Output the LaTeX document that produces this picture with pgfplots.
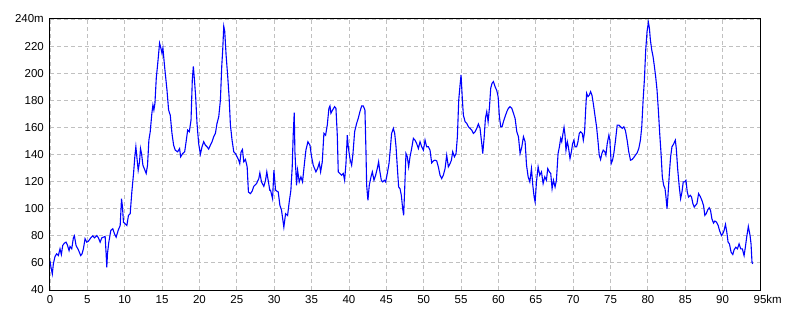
\documentclass[border=0pt]{standalone}
\usepackage{fontspec}
\setmainfont{Liberation Sans}
\usepackage{pgfplots}
\pgfplotsset{compat=1.18}
\definecolor{gridgray}{RGB}{192,192,192}
\begin{document}
\begin{tikzpicture}
\path[use as bounding box] (-50bp,-30bp) rectangle (750bp,290bp);
\begin{axis}[
  at={(0,0)}, anchor=south west,
  scale only axis, width=710bp, height=271bp,
  xmin=0, xmax=95, ymin=40, ymax=240,
  xtick={0,5,...,95}, ytick={40,60,...,240},
  xticklabels={0,5,10,15,20,25,30,35,40,45,50,55,60,65,70,75,80,85,90,95\rlap{km}},
  yticklabels={40,60,80,100,120,140,160,180,200,220,240m},
  major tick length=0pt,
  grid=major,
  grid style={gridgray, line width=0.8bp, dash pattern=on 4bp off 3bp},
  axis line style={black, line width=1bp},
  tick label style={font=\fontsize{11.5bp}{13bp}\selectfont, inner sep=0pt},
  /pgf/number format/assume math mode=true,
  yticklabel style={anchor=east, xshift=-6bp},
  xticklabel style={anchor=north, yshift=-5bp},
  axis on top=false,
]
\addplot[blue, line width=1.1bp] coordinates {
(0,61.5)(0.13,56.8)(0.31,51.9)(0.45,59.3)(0.67,64.7)(0.89,66.7)(1.12,65.4)(1.34,70.4)(1.52,66.2)(1.70,72.8)
(1.92,74.6)(2.15,75.3)(2.32,73.3)(2.55,69.1)(2.68,72.1)(2.91,70.4)(3.13,78.5)(3.26,80)(3.49,72.8)(3.80,69.6)
(4.11,65.4)(4.29,66.7)(4.47,70.4)(4.69,77.8)(4.92,75.3)(5.14,76)(5.45,78.5)(5.72,80)(5.95,78.5)(6.26,80.2)
(6.48,78.5)(6.71,75.3)(6.93,78.5)(7.15,79)(7.38,79.5)(7.51,66.7)(7.60,56.8)(7.69,66.7)(7.87,75.3)(8.14,84)
(8.40,85.2)(8.63,81.5)(8.85,79)(9.12,84)(9.39,87.6)(9.57,107.4)(9.70,101.2)(9.83,90)(10.06,88.9)(10.28,87.6)
(10.5,95)(10.73,96.3)(10.95,112.3)(11.18,126)(11.35,138.3)(11.49,145.7)(11.62,138.3)(11.80,128.4)(11.98,134.6)(12.11,144.4)
(12.25,140.7)(12.43,132.1)(12.70,128.4)(12.87,126)(13.05,132.1)(13.23,150.6)(13.41,156.8)(13.63,170.4)(13.77,176.5)(13.90,172.8)
(14.04,177.7)(14.22,196.3)(14.44,208.6)(14.66,222.2)(14.84,218.5)(14.98,214.8)(15.11,218.5)(15.33,205)(15.65,187.7)(15.87,172.8)
(16.09,169.1)(16.32,155.6)(16.54,146.9)(16.76,143.2)(17.08,142)(17.34,144.4)(17.48,138.3)(17.75,140.7)(18.02,142)(18.24,150.6)
(18.42,158)(18.64,156.8)(18.87,165.4)(19.04,195)(19.18,205)(19.31,196.3)(19.49,182.7)(19.67,163)(19.89,148.1)(20.12,140.2)
(20.34,145.7)(20.56,149.4)(20.79,146.9)(21.01,145.7)(21.23,144)(21.46,146.9)(21.68,149.4)(21.90,153.1)(22.13,155.6)(22.35,163)
(22.58,167.9)(22.80,180.2)(22.98,205)(23.11,217.3)(23.25,234.6)(23.38,230.9)(23.56,213.6)(23.78,197.5)(23.96,182.7)(24.14,161.7)
(24.36,150.6)(24.59,142)(24.81,140.7)(25.03,138.3)(25.25,135.8)(25.39,133.3)(25.57,142)(25.75,143.7)(25.93,134.6)(26.15,136.3)
(26.38,131)(26.55,112.3)(26.82,111.1)(27.05,113)(27.27,116.5)(27.63,118.5)(27.94,122.2)(28.08,126.4)(28.30,119.8)(28.61,116.5)
(28.84,121)(29.01,127.2)(29.19,121)(29.41,113.6)(29.51,113.6)(29.78,107.4)(29.96,128.4)(30.18,113.6)(30.54,112.3)(30.76,102.5)
(30.98,98.8)(31.29,86.4)(31.52,96.3)(31.79,95)(32.01,105)(32.23,113.6)(32.41,130.9)(32.54,154.3)(32.68,170.9)(32.77,142)
(32.99,117.3)(33.13,128.4)(33.35,119.8)(33.57,123.5)(33.79,119.8)(34.02,132.1)(34.24,143.2)(34.51,149.4)(34.78,146.9)(35.00,138.3)
(35.22,132.1)(35.58,127.2)(35.80,129.6)(36.03,133.8)(36.21,127.2)(36.43,134.6)(36.65,155.6)(36.88,154.3)(37.10,161.7)(37.32,174.1)
(37.46,175.8)(37.59,170.4)(37.81,172.8)(38.08,175.3)(38.26,174.1)(38.44,154.3)(38.57,127.2)(38.79,126)(39.02,124.7)(39.24,126)
(39.42,121)(39.60,133.3)(39.78,154.3)(39.91,145.7)(40.13,137)(40.36,132.1)(40.54,140.7)(40.76,156.8)(41.03,163)(41.25,166.7)
(41.47,171.6)(41.70,175.8)(41.92,175.8)(42.14,172.8)(42.28,142)(42.37,117.3)(42.54,106.2)(42.72,117.3)(42.95,123.5)(43.13,127.2)
(43.35,121)(43.57,124.7)(43.79,129.6)(43.97,134.6)(44.11,128.4)(44.33,121)(44.51,119.8)(44.73,121)(44.91,119.8)(45.13,126)
(45.36,133.3)(45.54,144.4)(45.71,155.6)(45.94,159.3)(46.12,155.6)(46.30,145.7)(46.47,130.9)(46.65,116)(46.83,114.8)(47.01,109.9)
(47.19,100)(47.32,95.1)(47.46,114.8)(47.63,140.7)(47.81,138.3)(47.99,130.9)(48.17,138.3)(48.39,144.4)(48.62,151.9)(48.84,150.6)
(49.06,148.1)(49.29,144.4)(49.51,149.4)(49.73,145.7)(49.96,143.2)(50.18,150.6)(50.40,145.7)(50.63,145.7)(50.85,143.2)(51.07,133.8)
(51.29,135.3)(51.52,135.8)(51.74,135.3)(51.96,130.9)(52.19,124.7)(52.41,122.2)(52.63,124.7)(52.86,129.6)(53.08,139.5)(53.30,130.9)
(53.53,133.3)(53.71,135.8)(53.88,142)(54.11,138.3)(54.33,140.7)(54.51,153.1)(54.69,180.2)(54.87,191.4)(55.00,198.8)(55.18,180.2)
(55.31,169.1)(55.54,164.2)(55.76,163)(55.98,160.5)(56.21,159.3)(56.43,158)(56.65,155.6)(56.88,156.8)(57.10,159.3)(57.32,162.5)
(57.54,159.3)(57.77,148.1)(57.90,140.7)(58.08,151.9)(58.26,166.7)(58.44,171.6)(58.62,164.2)(58.79,174.1)(58.97,188.9)(59.15,192.6)
(59.33,193.8)(59.55,190.1)(59.78,187.2)(59.96,182.7)(60.13,167.9)(60.31,160.5)(60.49,160.5)(60.67,164.2)(60.89,167.9)(61.12,171.6)
(61.34,174.1)(61.56,175.3)(61.79,174.1)(62.01,170.4)(62.23,166.7)(62.46,156.8)(62.68,153.1)(62.90,140.7)(63.13,145.7)(63.35,153.1)
(63.57,149.4)(63.76,132.1)(63.98,123.5)(64.20,119.8)(64.42,129.6)(64.60,117.3)(64.78,108.6)(64.91,105)(65.09,119.8)(65.31,130.9)
(65.53,124.7)(65.76,127.2)(65.98,118.5)(66.20,123.5)(66.42,121)(66.60,129.6)(66.82,127.2)(67.00,126)(67.18,114.8)(67.36,121)
(67.58,116)(67.76,121)(67.98,140.7)(68.16,145.7)(68.33,151.9)(68.47,149.4)(68.64,155.6)(68.78,160)(68.91,154.3)(69.04,143.2)
(69.22,149.4)(69.36,145.7)(69.58,137)(69.76,142)(69.93,148.1)(70.11,150.6)(70.24,145.7)(70.47,145.7)(70.64,149.4)(70.82,155.6)
(71.00,156.8)(71.22,155.6)(71.36,150.6)(71.53,156.8)(71.67,172.8)(71.80,185.2)(71.98,182.7)(72.16,183.9)(72.33,186.4)(72.51,183.9)
(72.69,177.8)(72.91,169.1)(73.13,160.5)(73.31,150.6)(73.49,139.5)(73.67,136.3)(73.84,140.7)(74.02,143.2)(74.24,142)(74.38,139.5)
(74.56,148.1)(74.78,154.3)(74.91,150.6)(75.09,133.3)(75.27,135.8)(75.44,140.7)(75.67,150.6)(75.89,161.7)(76.11,161.7)(76.33,160.5)
(76.56,159.3)(76.78,160.5)(77.00,157.5)(77.22,150.6)(77.44,142)(77.67,135.8)(77.89,136.3)(78.11,137.8)(78.33,139.5)(78.56,141.2)
(78.78,144.4)(79.00,150.6)(79.18,160.5)(79.36,180.2)(79.53,195.1)(79.71,217.3)(79.89,230.9)(80.07,237.5)(80.20,233.3)(80.33,224.7)
(80.51,217.3)(80.69,212.3)(80.87,205)(81.04,197.5)(81.22,187.7)(81.40,172.8)(81.58,155.6)(81.76,140.7)(81.93,123.5)(82.11,117.3)
(82.29,114.8)(82.42,108.6)(82.56,100)(82.69,109.9)(82.87,126)(83.04,138.3)(83.22,145.7)(83.44,147.7)(83.67,150.6)(83.80,144.4)
(83.98,129.6)(84.20,116)(84.38,107.4)(84.56,112.3)(84.73,119.8)(84.91,119.8)(85.09,121)(85.27,112.3)(85.44,108.6)(85.67,109.9)
(85.84,108.6)(86.02,103.7)(86.20,101.2)(86.38,102.5)(86.56,103.7)(86.78,111.1)(87.00,109.1)(87.22,106.2)(87.44,102.5)(87.62,95.1)
(87.80,96.3)(88.02,99.3)(88.20,100.7)(88.38,98.8)(88.56,92.6)(88.78,89.4)(88.96,90.9)(89.18,90.1)(89.40,87.7)(89.58,84)
(89.84,80.2)(90.02,81.5)(90.20,84)(90.38,88.4)(90.56,82.7)(90.73,75.3)(90.91,74.1)(91.13,67.9)(91.36,66.2)(91.53,69.6)
(91.76,71.6)(91.98,70.4)(92.20,74.1)(92.42,70.4)(92.64,70.4)(92.87,65.4)(93.04,71.6)(93.22,79)(93.44,86.9)(93.67,80.2)
(93.80,74.1)(93.93,60.5)(94.02,59.3)
};
\end{axis}
\end{tikzpicture}
\end{document}
